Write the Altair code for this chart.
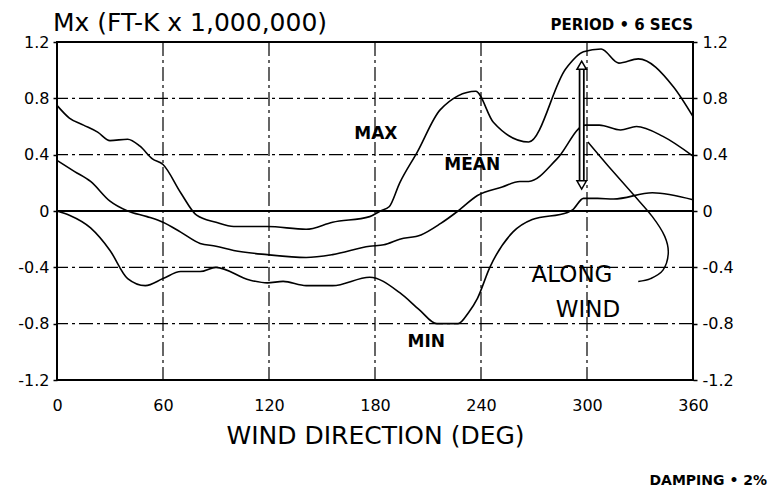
import altair as alt
import pandas as pd

# ---------------- data ----------------
max_deg = [0, 7, 15, 23, 30, 40, 47, 54, 60, 70, 79, 90, 100, 119, 141, 156, 177, 183, 188, 194, 204, 217, 237, 247, 267, 288, 298, 308, 318, 329, 349, 360]
max_val = [0.75, 0.66, 0.61, 0.56, 0.50, 0.51, 0.46, 0.37, 0.33, 0.13, -0.03, -0.08, -0.11, -0.11, -0.13, -0.08, -0.04, 0.0, 0.03, 0.20, 0.42, 0.72, 0.85, 0.63, 0.49, 1.01, 1.13, 1.15, 1.05, 1.08, 0.88, 0.67]

mean_deg = [0, 10, 19, 30, 40, 51, 60, 70, 81, 90, 100, 119, 141, 156, 177, 185, 194, 206, 217, 227, 238, 252, 262, 267, 283, 299, 307, 319, 328, 343, 360]
mean_val = [0.36, 0.28, 0.21, 0.07, 0.0, -0.04, -0.08, -0.15, -0.23, -0.25, -0.28, -0.31, -0.33, -0.31, -0.25, -0.24, -0.20, -0.17, -0.09, 0.0, 0.11, 0.17, 0.21, 0.21, 0.37, 0.61, 0.61, 0.575, 0.60, 0.53, 0.39]

min_deg = [0, 7, 19, 30, 40, 50, 60, 70, 81, 90, 109, 119, 128, 141, 156, 177, 194, 205, 215, 227, 233, 238, 245, 258, 269, 289, 292, 298, 306, 315, 337, 360]
min_val = [0.0, -0.03, -0.12, -0.28, -0.48, -0.53, -0.48, -0.43, -0.43, -0.40, -0.49, -0.51, -0.50, -0.53, -0.53, -0.47, -0.58, -0.70, -0.80, -0.80, -0.72, -0.62, -0.40, -0.15, -0.06, -0.01, 0.01, 0.09, 0.09, 0.085, 0.13, 0.08]

# leader line from "ALONG WIND" to the double arrow
lead_deg = [300.5, 312, 326, 337, 344, 346, 343, 336, 329]
lead_val = [0.49, 0.32, 0.12, -0.04, -0.18, -0.30, -0.42, -0.48, -0.50]

# double arrow
arrow_deg = [297]
arrow_lo = [0.20]
arrow_hi = [1.02]
arrow_tip_hi = [1.035]
arrow_tip_lo = [0.185]

x_ticks = [0, 60, 120, 180, 240, 300, 360]
y_ticks = [-1.2, -0.8, -0.4, 0, 0.4, 0.8, 1.2]
grid_x = [60, 120, 180, 240, 300]
grid_y = [-0.8, -0.4, 0.4, 0.8]
zero_y = [0]

label_text = ["MAX", "MEAN", "MIN"]
label_deg = [180.5, 235, 209]
label_val = [0.55, 0.33, -0.93]

along_text = ["ALONG", "WIND"]
along_deg = [291.5, 300.5]
along_val = [-0.455, -0.70]

title_text = "Mx (FT-K x 1,000,000)"
period_text = "PERIOD • 6 SECS"
damping_text = "DAMPING • 2%"

W, H = 636, 338
FONT = "DejaVu Sans"

df_max = pd.DataFrame({"deg": max_deg, "val": max_val})
df_mean = pd.DataFrame({"deg": mean_deg, "val": mean_val})
df_min = pd.DataFrame({"deg": min_deg, "val": min_val})
df_lead = pd.DataFrame({"deg": lead_deg, "val": lead_val, "i": list(range(len(lead_deg)))})
df_arrow = pd.DataFrame({"deg": arrow_deg, "lo": arrow_lo, "hi": arrow_hi,
                         "thi": arrow_tip_hi, "tlo": arrow_tip_lo})
df_labels = pd.DataFrame({"deg": label_deg, "val": label_val, "t": label_text})
df_along = pd.DataFrame({"deg": along_deg, "val": along_val, "t": along_text})

xs = alt.Scale(domain=[0, 360], nice=False, zero=False)
ys = alt.Scale(domain=[-1.2, 1.2], nice=False, zero=False)

lab_expr = "datum.value == 0 ? '0' : (datum.value < 0 ? '-' : '') + format(abs(datum.value), '.1f')"

x_axis = alt.Axis(values=x_ticks, title="WIND DIRECTION (DEG)", grid=False, domain=False,
                  ticks=False, labelFont=FONT, labelFontSize=16, labelColor="black",
                  labelPadding=17, labelFlush=False, titleFont=FONT, titleFontSize=25,
                  titleFontWeight="normal", titleColor="black", titlePadding=10, format="d")
y_left = alt.Axis(values=y_ticks, title=None, grid=False, domain=False, ticks=True, tickSize=4,
                  tickColor="black", tickWidth=1.5, labelFont=FONT, labelFontSize=16,
                  labelColor="black", labelPadding=4, labelExpr=lab_expr, orient="left",
                  labelFlush=False)
y_right = alt.Axis(values=y_ticks, title=None, grid=False, domain=False, ticks=True, tickSize=4,
                   tickColor="black", tickWidth=1.5, labelFont=FONT, labelFontSize=16,
                   labelColor="black", labelPadding=5, labelExpr=lab_expr, orient="right",
                   labelFlush=False)

dash = [14, 4, 3, 4]
grid_v = alt.Chart(pd.DataFrame({"deg": grid_x})).mark_rule(
    color="black", strokeWidth=1.2, strokeDash=dash).encode(
    x=alt.X("deg:Q", scale=xs, axis=None))
grid_h = alt.Chart(pd.DataFrame({"val": grid_y})).mark_rule(
    color="black", strokeWidth=1.2, strokeDash=dash).encode(
    y=alt.Y("val:Q", scale=ys, axis=None))
zero = alt.Chart(pd.DataFrame({"val": zero_y})).mark_rule(
    color="black", strokeWidth=1.8).encode(
    y=alt.Y("val:Q", scale=ys, axis=None))

def curve(df):
    return alt.Chart(df).mark_line(color="black", strokeWidth=1.6, interpolate="monotone").encode(
        x=alt.X("deg:Q", scale=xs, axis=None),
        y=alt.Y("val:Q", scale=ys, axis=None))

c_max = alt.Chart(df_max).mark_line(color="black", strokeWidth=1.6, interpolate="monotone").encode(
    x=alt.X("deg:Q", scale=xs, axis=x_axis),
    y=alt.Y("val:Q", scale=ys, axis=y_left))
c_mean = curve(df_mean)
c_min = curve(df_min)

right_axis = alt.Chart(df_max).mark_line(opacity=0).encode(
    x=alt.X("deg:Q", scale=xs, axis=None),
    y=alt.Y("val:Q", scale=ys, axis=y_right))

lead = alt.Chart(df_lead).mark_line(color="black", strokeWidth=1.5, interpolate="cardinal").encode(
    x=alt.X("deg:Q", scale=xs, axis=None),
    y=alt.Y("val:Q", scale=ys, axis=None),
    order="i:Q")

shaft_outer = alt.Chart(df_arrow).mark_rule(color="black", strokeWidth=6).encode(
    x=alt.X("deg:Q", scale=xs, axis=None),
    y=alt.Y("lo:Q", scale=ys, axis=None), y2="hi:Q")
shaft_inner = alt.Chart(df_arrow).mark_rule(color="white", strokeWidth=2.5).encode(
    x=alt.X("deg:Q", scale=xs, axis=None),
    y=alt.Y("lo:Q", scale=ys, axis=None), y2="hi:Q")
head_up = alt.Chart(df_arrow).mark_point(shape="triangle-up", filled=True, fill="white",
                                         stroke="black", strokeWidth=1.5, size=90, opacity=1).encode(
    x=alt.X("deg:Q", scale=xs, axis=None),
    y=alt.Y("thi:Q", scale=ys, axis=None))
head_dn = alt.Chart(df_arrow).mark_point(shape="triangle-down", filled=True, fill="white",
                                         stroke="black", strokeWidth=1.5, size=90, opacity=1).encode(
    x=alt.X("deg:Q", scale=xs, axis=None),
    y=alt.Y("tlo:Q", scale=ys, axis=None))

labels = alt.Chart(df_labels).mark_text(font=FONT, fontSize=17, fontWeight="bold", color="black").encode(
    x=alt.X("deg:Q", scale=xs, axis=None),
    y=alt.Y("val:Q", scale=ys, axis=None),
    text="t:N")
along = alt.Chart(df_along).mark_text(font=FONT, fontSize=23, color="black").encode(
    x=alt.X("deg:Q", scale=xs, axis=None),
    y=alt.Y("val:Q", scale=ys, axis=None),
    text="t:N")

title = alt.Chart(pd.DataFrame({"t": [title_text]})).mark_text(
    font=FONT, fontSize=25, color="black", align="left", baseline="alphabetic").encode(
    x=alt.value(-4), y=alt.value(-11), text="t:N")
period = alt.Chart(pd.DataFrame({"t": [period_text]})).mark_text(
    font=FONT, fontSize=15, fontWeight="bold", color="black", align="right", baseline="middle").encode(
    x=alt.value(W), y=alt.value(-17), text="t:N")
damping = alt.Chart(pd.DataFrame({"t": [damping_text]})).mark_text(
    font=FONT, fontSize=14, fontWeight="bold", color="black", align="right", baseline="middle").encode(
    x=alt.value(W + 74), y=alt.value(H + 101), text="t:N")

chart = alt.layer(
    grid_v, grid_h, zero, c_max, c_mean, c_min, right_axis, lead,
    shaft_outer, shaft_inner, head_up, head_dn, labels, along, title, period, damping
).resolve_axis(x="independent", y="independent").properties(
    width=W, height=H,
    autosize=alt.AutoSizeParams(type="none"),
    padding={"left": 49, "top": 34, "right": 80, "bottom": 108},
).configure(background="white").configure_view(stroke="black", strokeWidth=2)

chart.save("out.html", embed_options={"renderer": "svg", "actions": False})
